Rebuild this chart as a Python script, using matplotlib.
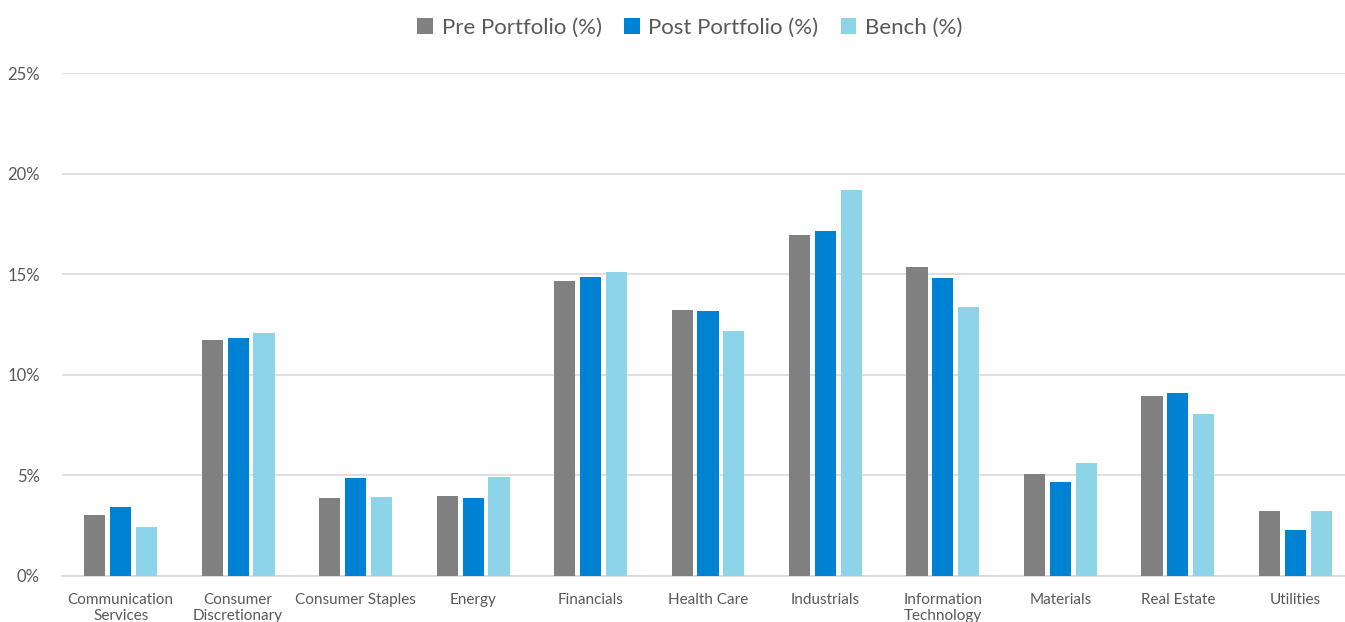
import numpy as np
import matplotlib.pyplot as plt
from matplotlib.ticker import PercentFormatter

# ----------------------------
# data
# ----------------------------
sectors = [
    "Communication\nServices", "Consumer\nDiscretionary", "Consumer Staples",
    "Energy", "Financials", "Health Care", "Industrials",
    "Information\nTechnology", "Materials", "Real Estate", "Utilities",
]
pre_portfolio = [3.03, 11.73, 3.88, 3.98, 14.66, 13.22, 16.95, 15.36, 5.07, 8.95, 3.25]
post_portfolio = [3.43, 11.83, 4.87, 3.86, 14.86, 13.19, 17.15, 14.81, 4.67, 9.10, 2.27]
bench = [2.44, 12.08, 3.91, 4.92, 15.11, 12.18, 19.18, 13.37, 5.62, 8.05, 3.25]

series_names = ["Pre Portfolio (%)", "Post Portfolio (%)", "Bench (%)"]
colors = ["#808080", "#0082D4", "#8ED4E9"]

plt.rcParams['font.family'] = ['Lato', 'DejaVu Sans']
text_color = "#595959"

fig = plt.figure(figsize=(13.45, 6.22), dpi=100)
# the plot area runs a little past the right edge, as in the original
ax = fig.add_axes([62 / 1345, 46 / 622, 1292 / 1345, 503 / 622])

x = np.arange(len(sectors))
width = 0.18
step = 0.22
for i, (vals, name, c) in enumerate(zip([pre_portfolio, post_portfolio, bench], series_names, colors)):
    ax.bar(x + (i - 1) * step, vals, width, color=c, label=name, zorder=3)

ax.set_xlim(-0.5, len(sectors) - 0.5)
ax.set_ylim(0, 25)
ax.set_yticks(np.arange(0, 26, 5))
ax.yaxis.set_major_formatter(PercentFormatter(decimals=0))
ax.set_xticks(x)
ax.set_xticklabels(sectors, fontsize=11, color=text_color, linespacing=1.25)
ax.tick_params(axis='y', labelsize=12, colors=text_color, length=0, pad=16)
ax.tick_params(axis='x', length=0, pad=12)

ax.grid(axis='y', color="#D9D9D9", linewidth=1.2, zorder=0)
for s in ["top", "right", "left"]:
    ax.spines[s].set_visible(False)
ax.spines["bottom"].set_color("#D9D9D9")
ax.spines["bottom"].set_linewidth(1.2)

leg = fig.legend(loc="center", bbox_to_anchor=(690 / 1345, 1 - 28 / 622), ncol=3, frameon=False,
                 fontsize=16, handlelength=0.7, handleheight=0.7, columnspacing=1.0,
                 handletextpad=0.4)
for t in leg.get_texts():
    t.set_color(text_color)

fig.savefig("out.png", dpi=100)
